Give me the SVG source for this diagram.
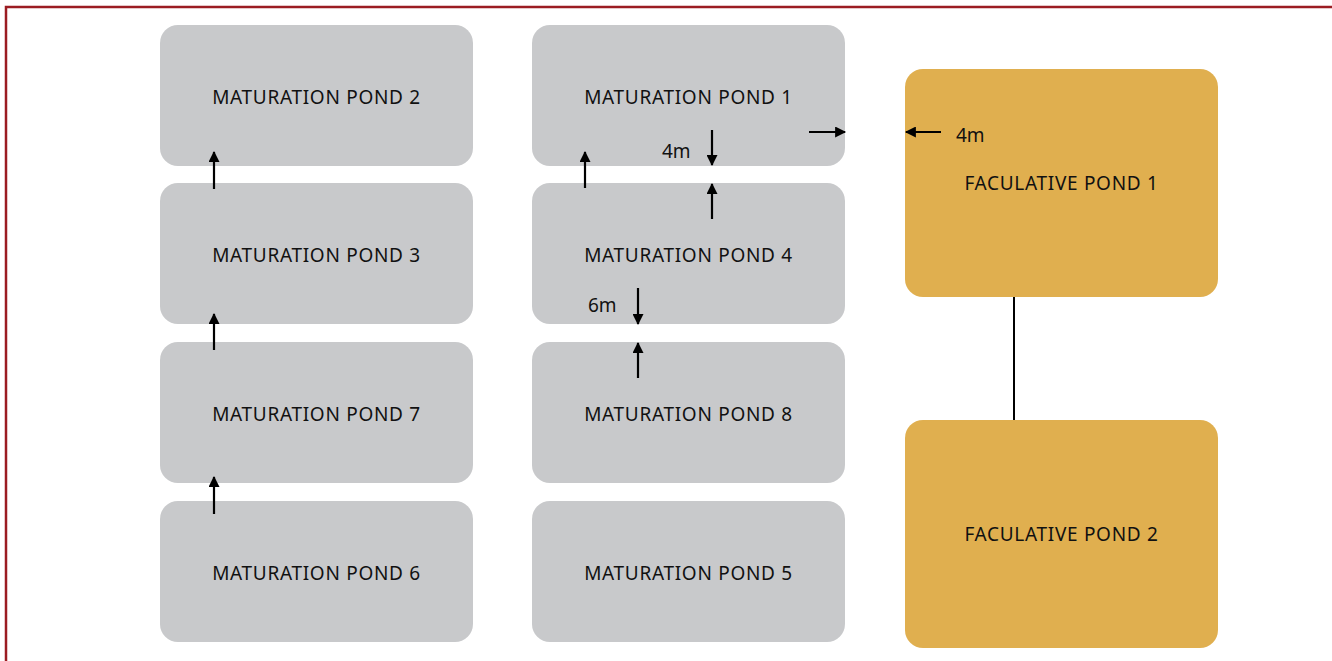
<svg xmlns="http://www.w3.org/2000/svg" width="1332" height="661" viewBox="0 0 1332 661">
  <defs>
    <style>
      .mat { fill: #c8c9cb; }
      .fac { fill: #e0af4f; }
      .lbl { font-family: "Noto Sans", "Open Sans", sans-serif; font-size: 19px; letter-spacing: 0.7px; fill: #111; text-anchor: middle; }
      .dim { font-family: "Noto Sans", "Open Sans", sans-serif; font-size: 19px; fill: #111; }
      .arr { stroke: #000; stroke-width: 2.2; fill: none; marker-end: url(#head); }
    </style>
    <marker id="head" viewBox="0 0 10 10" refX="9" refY="5" markerWidth="6" markerHeight="5" orient="auto" markerUnits="strokeWidth">
      <path d="M0,0 L10,5 L0,10 z" fill="#000"/>
    </marker>
  </defs>
  <rect width="1332" height="661" fill="#fff"/>
  <!-- outer frame, right and bottom edges run past the page -->
  <rect x="6" y="7" width="1340" height="670" fill="none" stroke="#9b1c22" stroke-width="2.5"/>

  <g id="mp2"><rect class="mat" x="160" y="25" width="313" height="141" rx="18"/><text class="lbl" x="316.5" y="103.5">MATURATION POND 2</text></g>
  <g id="mp3"><rect class="mat" x="160" y="183" width="313" height="141" rx="18"/><text class="lbl" x="316.5" y="261.5">MATURATION POND 3</text></g>
  <g id="mp7"><rect class="mat" x="160" y="342" width="313" height="141" rx="18"/><text class="lbl" x="316.5" y="420.5">MATURATION POND 7</text></g>
  <g id="mp6"><rect class="mat" x="160" y="501" width="313" height="141" rx="18"/><text class="lbl" x="316.5" y="579.5">MATURATION POND 6</text></g>

  <g id="mp1"><rect class="mat" x="532" y="25" width="313" height="141" rx="18"/><text class="lbl" x="688.5" y="103.5">MATURATION POND 1</text></g>
  <g id="mp4"><rect class="mat" x="532" y="183" width="313" height="141" rx="18"/><text class="lbl" x="688.5" y="261.5">MATURATION POND 4</text></g>
  <g id="mp8"><rect class="mat" x="532" y="342" width="313" height="141" rx="18"/><text class="lbl" x="688.5" y="420.5">MATURATION POND 8</text></g>
  <g id="mp5"><rect class="mat" x="532" y="501" width="313" height="141" rx="18"/><text class="lbl" x="688.5" y="579.5">MATURATION POND 5</text></g>

  <g id="fp1"><rect class="fac" x="905" y="69" width="313" height="228" rx="18"/><text class="lbl" x="1061.5" y="189.5">FACULATIVE POND 1</text></g>
  <g id="fp2"><rect class="fac" x="905" y="420" width="313" height="228" rx="18"/><text class="lbl" x="1061.5" y="540.5">FACULATIVE POND 2</text></g>

  <g id="connectors">
    <line x1="1014" y1="297" x2="1014" y2="420" stroke="#000" stroke-width="2"/>
    <line class="arr" x1="214" y1="189" x2="214" y2="152"/>
    <line class="arr" x1="214" y1="350" x2="214" y2="314"/>
    <line class="arr" x1="214" y1="514" x2="214" y2="477"/>
    <line class="arr" x1="585" y1="188" x2="585" y2="152"/>
    <line class="arr" x1="712" y1="130" x2="712" y2="165"/>
    <line class="arr" x1="712" y1="219" x2="712" y2="184"/>
    <line class="arr" x1="638" y1="288" x2="638" y2="324"/>
    <line class="arr" x1="638" y1="378" x2="638" y2="343"/>
    <line class="arr" x1="809" y1="132" x2="845" y2="132"/>
    <line class="arr" x1="941" y1="132" x2="906" y2="132"/>
    <text class="dim" x="662" y="158">4m</text>
    <text class="dim" x="588" y="312">6m</text>
    <text class="dim" x="956" y="142">4m</text>
  </g>
</svg>
